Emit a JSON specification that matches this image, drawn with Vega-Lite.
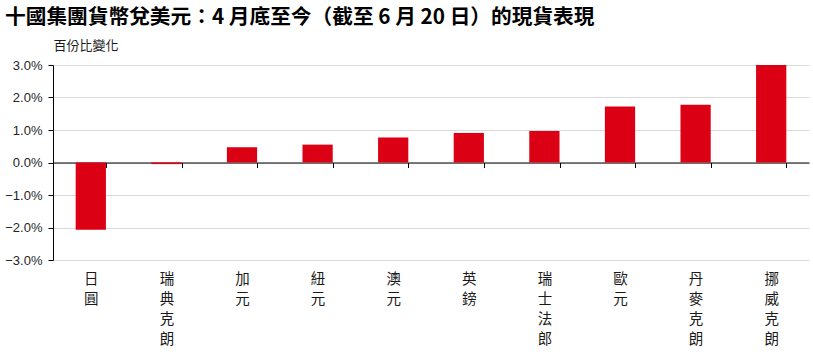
{
  "$schema": "https://vega.github.io/schema/vega-lite/v6.json",
  "autosize": {"type": "none"},
  "width": 756,
  "height": 195,
  "padding": {"left": 53, "top": 65, "right": 4, "bottom": 95},
  "background": "white",
  "title": {
    "text": "十國集團貨幣兌美元：4 月底至今（截至 6 月 20 日）的現貨表現",
    "anchor": "start",
    "frame": "group",
    "dx": -48,
    "dy": 0,
    "font": "Noto Sans CJK TC",
    "fontSize": 20.7,
    "fontWeight": "bold",
    "color": "#000000",
    "offset": 10
  },
  "config": {
    "view": {"stroke": null},
    "axis": {"labelFont": "Liberation Sans", "titleFont": "Noto Sans CJK TC"}
  },
  "data": {
    "values": [
      {"currency": "日圓", "change": -2.07},
      {"currency": "瑞典克朗", "change": -0.05},
      {"currency": "加元", "change": 0.47},
      {"currency": "紐元", "change": 0.55},
      {"currency": "澳元", "change": 0.77},
      {"currency": "英鎊", "change": 0.91},
      {"currency": "瑞士法郎", "change": 0.97},
      {"currency": "歐元", "change": 1.72},
      {"currency": "丹麥克朗", "change": 1.78},
      {"currency": "挪威克朗", "change": 3.0}
    ]
  },
  "mark": {"type": "bar", "color": "#DC0014"},
  "encoding": {
    "x": {
      "field": "currency",
      "type": "nominal",
      "sort": null,
      "scale": {"paddingInner": 0.6, "paddingOuter": 0.3},
      "axis": {
        "title": null,
        "offset": -97.5,
        "domainColor": "#000000",
        "domainWidth": 1,
        "tickColor": "#000000",
        "tickSize": 5,
        "tickBand": "extent",
        "labelAngle": 0,
        "labelExpr": "split(datum.label, '')",
        "labelFont": "Noto Sans CJK TC",
        "labelFontSize": 14.5,
        "labelLineHeight": 20,
        "labelColor": "#1a1a1a",
        "labelPadding": 105,
        "labelBaseline": "top",
        "labelAlign": "center"
      }
    },
    "y": {
      "field": "change",
      "type": "quantitative",
      "scale": {"domain": [-3, 3], "nice": false, "zero": false},
      "axis": {
        "values": [-3, -2, -1, 0, 1, 2, 3],
        "labelExpr": "format(datum.value, '.1f') + '%'",
        "labelFontSize": 13,
        "labelColor": "#262626",
        "labelPadding": 6,
        "tickSize": 5,
        "tickColor": "#000000",
        "domainColor": "#000000",
        "gridColor": "#d9d9d9",
        "title": "百份比變化",
        "titleAngle": 0,
        "titleAlign": "left",
        "titleBaseline": "middle",
        "titleX": 0,
        "titleY": -20,
        "titleFontSize": 13,
        "titleFontWeight": "normal",
        "titleColor": "#1a1a1a"
      }
    }
  }
}
